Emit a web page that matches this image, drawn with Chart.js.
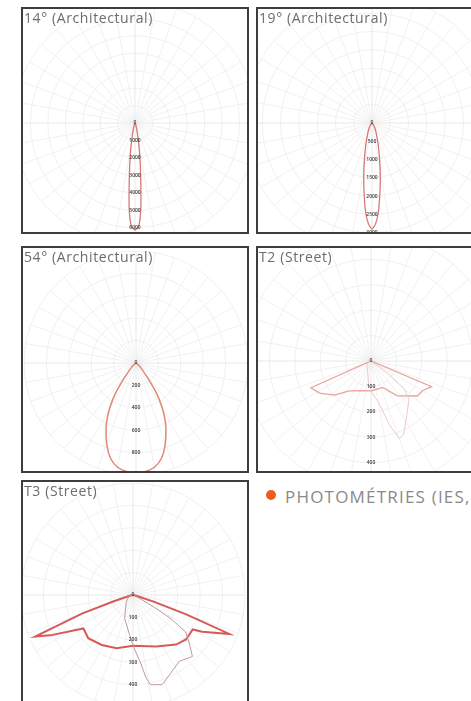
<!DOCTYPE html>
<html>
<head>
<meta charset="utf-8">
<script src="https://cdn.jsdelivr.net/npm/chart.js@4.4.1/dist/chart.umd.min.js"></script>
<style>
  html, body { margin: 0; padding: 0; background: #fff; }
  body { position: relative; width: 471px; height: 701px; overflow: hidden; font-family: "Open Sans", sans-serif; }
  .panel { position: absolute; box-sizing: border-box; border: 2px solid #3d3d3d; overflow: hidden; background: #fff; height: 227px; }
  .panel canvas { position: absolute; }
  .ttl { position: absolute; left: 1px; top: 1px; font-size: 14px; line-height: 16px; letter-spacing: .6px; color: #6c6c6c; white-space: nowrap; z-index: 2; }
  #p1 { left: 21px; top: 7px; width: 228px; }
  #p2 { left: 256px; top: 7px; width: 230px; }
  #p3 { left: 21px; top: 246px; width: 228px; }
  #p4 { left: 256px; top: 246px; width: 230px; }
  #p5 { left: 21px; top: 480px; width: 228px; }
  #head { position: absolute; left: 285px; top: 487px; font-size: 17px; line-height: 20px; letter-spacing: 1.2px; color: #8a8a8a; white-space: nowrap; }
  #dot { position: absolute; left: 266px; top: 490px; width: 10px; height: 10px; border-radius: 50%; background: #ef5a1f; }
</style>
</head>
<body>
<div class="panel" id="p1"><div class="ttl">14° (Architectural)</div><canvas id="c14" width="244" height="244" style="left:-10.5px;top:-8.5px"></canvas></div>
<div class="panel" id="p2"><div class="ttl">19° (Architectural)</div><canvas id="c19" width="256" height="256" style="left:-14.5px;top:-14px"></canvas></div>
<div class="panel" id="p3"><div class="ttl">54° (Architectural)</div><canvas id="c54" width="224" height="224" style="left:1px;top:2.5px"></canvas></div>
<div class="panel" id="p4"><div class="ttl">T2 (Street)</div><canvas id="ct2" width="255" height="255" style="left:-13.8px;top:-13.8px"></canvas></div>
<div class="panel" id="p5"><div class="ttl">T3 (Street)</div><canvas id="ct3" width="225" height="225" style="left:-2px;top:0.5px"></canvas></div>
<div id="dot"></div>
<div id="head">PHOTOMÉTRIES (IES,</div>

<script>
// one radar slot per degree, 0 = straight down (nadir)
const DEG = Array.from({ length: 360 }, (_, i) => i + '°');

// 14° (Architectural) - symmetric beam, cd
const a14Gamma = [0, 2, 3, 4, 5, 6, 7, 8, 9, 10, 12, 15, 20, 30, 45];
const a14Cd = [6140, 5910, 5510, 4820, 3900, 3100, 2530, 2010, 1610, 1260, 750, 400, 170, 60, 0];

// 19° (Architectural)
const a19Gamma = [0, 2, 4, 6, 8, 10, 12, 14, 17, 20, 24, 30, 40, 50];
const a19Cd = [2900, 2760, 2460, 2020, 1620, 1280, 990, 770, 540, 380, 265, 150, 50, 0];

// 54° (Architectural)
const a54Gamma = [0, 5, 10, 15, 20, 25, 28, 31, 34, 37, 40, 45, 52, 60, 70];
const a54Cd = [975, 972, 945, 880, 765, 630, 540, 440, 330, 205, 120, 65, 25, 5, 0];

// T2 (Street) - C0/C180 plane
const t2C0LeftGamma = [0, 13, 36, 47, 58, 66, 70];
const t2C0Left = [118, 120, 145, 197, 239, 259, 0];
const t2C0RightGamma = [0, 24, 37, 53, 60, 67, 70];
const t2C0Right = [118, 114, 172, 229, 234, 259, 0];
// T2 - C90/C270 plane
const t2C90LeftGamma = [0, 5, 15, 30, 50, 75, 90];
const t2C90Left = [118, 95, 50, 30, 20, 10, 0];
const t2C90RightGamma = [0, 11, 16, 20, 24, 34, 45, 50, 54, 58];
const t2C90Right = [118, 172, 259, 325, 316, 253, 212, 171, 89, 0];

// T3 (Street) - C0/C180 plane
const t3C0LeftGamma = [0, 17, 32, 46, 56, 64, 67, 70, 72, 76, 80];
const t3C0Left = [227, 248, 263, 278, 267, 411, 475, 240, 90, 15, 0];
const t3C0RightGamma = [0, 24, 41, 50, 60, 62, 68, 70, 72, 76, 80];
const t3C0Right = [227, 252, 293, 309, 308, 350, 464, 250, 100, 15, 0];
// T3 - C90/C270 plane
const t3C90LeftGamma = [0, 5, 20, 45, 70, 90];
const t3C90Left = [227, 178, 110, 42, 20, 0];
const t3C90RightGamma = [0, 6, 9, 11, 18, 25, 35, 44, 50, 55, 58, 60, 63, 66];
const t3C90Right = [227, 298, 374, 408, 421, 390, 361, 382, 326, 287, 200, 110, 30, 0];

// put gamma readings into radar slots (left half = gamma, right half = 360 - gamma)
function toRadar(leftG, leftV, rightG, rightV) {
  const out = DEG.map(() => null);
  leftG.forEach((g, i) => { out[g] = leftV[i]; });
  rightG.forEach((g, i) => { out[(360 - g) % 360] = rightV[i]; });
  return out;
}

// small value marks down the nadir axis
const nadirTicks = {
  id: 'nadirTicks',
  afterDatasetsDraw(chart) {
    const s = chart.scales.r, c = chart.ctx;
    c.save();
    c.font = '600 5px "Open Sans"';
    c.textAlign = 'center';
    c.textBaseline = 'middle';
    c.fillStyle = '#3c3c3c';
    s.ticks.forEach(t => {
      if (t.value >= s.max) return;
      const d = s.getDistanceFromCenterForValue(t.value);
      c.fillText(String(t.value), s.xCenter, s.yCenter + d);
    });
    c.restore();
  }
};

function polarChart(id, step, max, sets) {
  new Chart(document.getElementById(id), {
    type: 'radar',
    data: {
      labels: DEG,
      datasets: sets.map(s => ({
        data: s.data,
        borderColor: s.color,
        borderWidth: s.width,
        fill: false,
        pointRadius: 0,
        pointHitRadius: 0,
        spanGaps: true,
        tension: s.tension || 0
      }))
    },
    options: {
      responsive: false,
      animation: false,
      events: [],
      layout: { padding: 0 },
      plugins: { legend: { display: false }, tooltip: { enabled: false } },
      scales: {
        r: {
          min: 0, max: max, startAngle: 180,
          ticks: { display: false, stepSize: step },
          pointLabels: { display: false },
          grid: { circular: true, color: '#ececec', lineWidth: 0.8 },
          angleLines: {
            color: c => c.index % 90 === 0 ? '#e2e2e2' : '#eeeeee',
            lineWidth: c => c.index % 10 === 0 ? 0.8 : 0
          }
        }
      }
    },
    plugins: [nadirTicks]
  });
}

polarChart('c14', 1000, 7000, [
  { data: toRadar(a14Gamma, a14Cd, a14Gamma, a14Cd), color: '#d67878', width: 1.3, tension: 0.2 }
]);
polarChart('c19', 500, 3500, [
  { data: toRadar(a19Gamma, a19Cd, a19Gamma, a19Cd), color: '#d67878', width: 1.3, tension: 0.2 }
]);
polarChart('c54', 200, 1000, [
  { data: toRadar(a54Gamma, a54Cd, a54Gamma, a54Cd), color: '#df8873', width: 1.5, tension: 0.25 }
]);
polarChart('ct2', 100, 500, [
  { data: toRadar(t2C90LeftGamma, t2C90Left, t2C90RightGamma, t2C90Right), color: '#eccbc6', width: 1 },
  { data: toRadar(t2C0LeftGamma, t2C0Left, t2C0RightGamma, t2C0Right), color: '#e6a49d', width: 1.3 }
]);
polarChart('ct3', 100, 500, [
  { data: toRadar(t3C90LeftGamma, t3C90Left, t3C90RightGamma, t3C90Right), color: '#bf9a9a', width: 1 },
  { data: toRadar(t3C0LeftGamma, t3C0Left, t3C0RightGamma, t3C0Right), color: '#d65a5a', width: 2 }
]);
</script>
</body>
</html>
